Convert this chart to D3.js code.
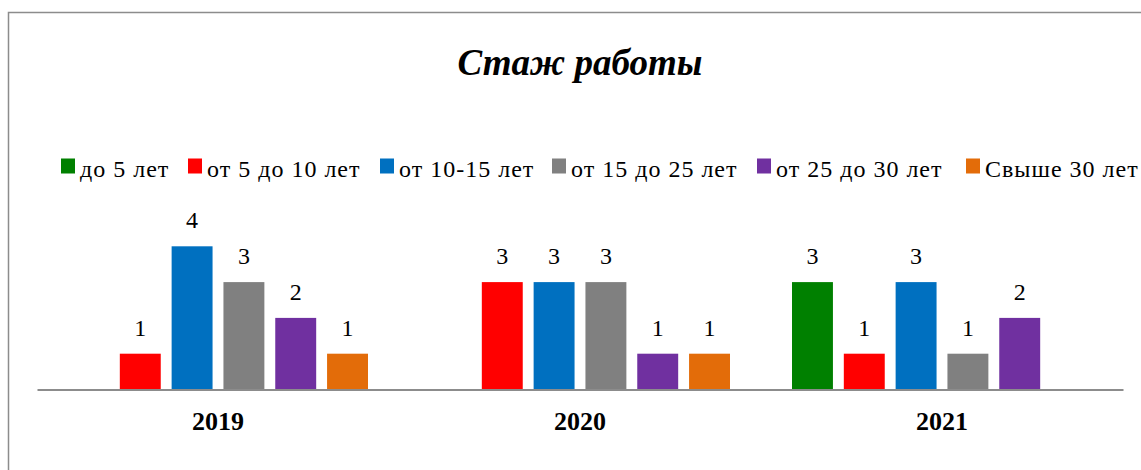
<!DOCTYPE html>
<html>
<head>
<meta charset="utf-8">
<script src="https://cdn.jsdelivr.net/npm/d3@7"></script>
<style>
  html, body { margin: 0; padding: 0; background: #fff; }
  svg { display: block; font-family: "Liberation Serif", "Times New Roman", serif; }
</style>
</head>
<body>
<div id="chart"></div>
<script>
const years = ['2019', '2020', '2021'];
const seriesNames = ['до 5 лет', 'от 5 до 10 лет', 'от 10-15 лет', 'от 15 до 25 лет', 'от 25 до 30 лет', 'Свыше 30 лет'];
const seriesColors = ['#008000', '#ff0000', '#0070c0', '#808080', '#7030a0', '#e36c09'];
// values per year, in series order (0 = no bar)
const values2019 = [0, 1, 4, 3, 2, 1];
const values2020 = [0, 3, 3, 3, 1, 1];
const values2021 = [3, 1, 3, 1, 2, 0];
const valuesByYear = [values2019, values2020, values2021];

let width = 1141;
let height = 470;

let svg = d3.select('#chart').append('svg')
  .attr('width', width)
  .attr('height', height);

// chart frame (runs past right/bottom edge like the screenshot)
svg.append('rect')
  .attr('x', 8.5).attr('y', 12.5)
  .attr('width', 1200).attr('height', 500)
  .attr('fill', 'none')
  .attr('stroke', '#8c8c8c')
  .attr('stroke-width', 1.5);

svg.append('text')
  .attr('x', 580).attr('y', 75)
  .attr('text-anchor', 'middle')
  .attr('font-size', 37)
  .attr('font-weight', 'bold')
  .attr('font-style', 'italic')
  .text('Стаж работы');

// legend
let legendX = [61, 188, 380, 552, 757, 966];
let legend = svg.append('g').attr('class', 'legend');
seriesNames.forEach((name, i) => {
  let g = legend.append('g').attr('transform', `translate(${legendX[i]},0)`);
  g.append('rect')
    .attr('x', 0).attr('y', 158.5)
    .attr('width', 14).attr('height', 15)
    .attr('fill', seriesColors[i]);
  g.append('text')
    .attr('x', 19).attr('y', 176.5)
    .attr('font-size', 24)
    .attr('letter-spacing', 1)
    .text(name);
});

let x0 = d3.scaleBand()
  .domain(years)
  .range([37, 1123]);

let x1 = d3.scaleBand()
  .domain(d3.range(seriesNames.length))
  .range([31, 331])
  .paddingInner(0.21);

let y = d3.scaleLinear()
  .domain([0, 5])
  .range([389.5, 210.5]);

let groups = svg.selectAll('g.year')
  .data(years)
  .enter()
  .append('g')
  .attr('class', 'year')
  .attr('transform', d => `translate(${x0(d)},0)`);

groups.each(function(yr, yi) {
  let g = d3.select(this);
  let rows = valuesByYear[yi].map((v, i) => ({ v, i })).filter(d => d.v > 0);

  g.selectAll('rect')
    .data(rows)
    .enter()
    .append('rect')
    .attr('x', d => x1(d.i))
    .attr('y', d => y(d.v))
    .attr('width', x1.bandwidth())
    .attr('height', d => y(0) - y(d.v))
    .attr('fill', d => seriesColors[d.i]);

  g.selectAll('text.val')
    .data(rows)
    .enter()
    .append('text')
    .attr('class', 'val')
    .attr('x', d => x1(d.i) + x1.bandwidth() / 2)
    .attr('y', d => y(d.v) - 18)
    .attr('text-anchor', 'middle')
    .attr('font-size', 24)
    .text(d => d.v);
});

// category axis
let xAxis = d3.axisBottom(x0).tickSize(0).tickPadding(22);
let axisG = svg.append('g')
  .attr('transform', `translate(0,${y(0)})`)
  .call(xAxis);
axisG.select('.domain').attr('stroke', '#8c8c8c').attr('stroke-width', 2);
axisG.selectAll('text')
  .attr('font-family', '"Liberation Serif", "Times New Roman", serif')
  .attr('font-size', 26)
  .attr('font-weight', 'bold')
  .attr('fill', '#000');
</script>
</body>
</html>
